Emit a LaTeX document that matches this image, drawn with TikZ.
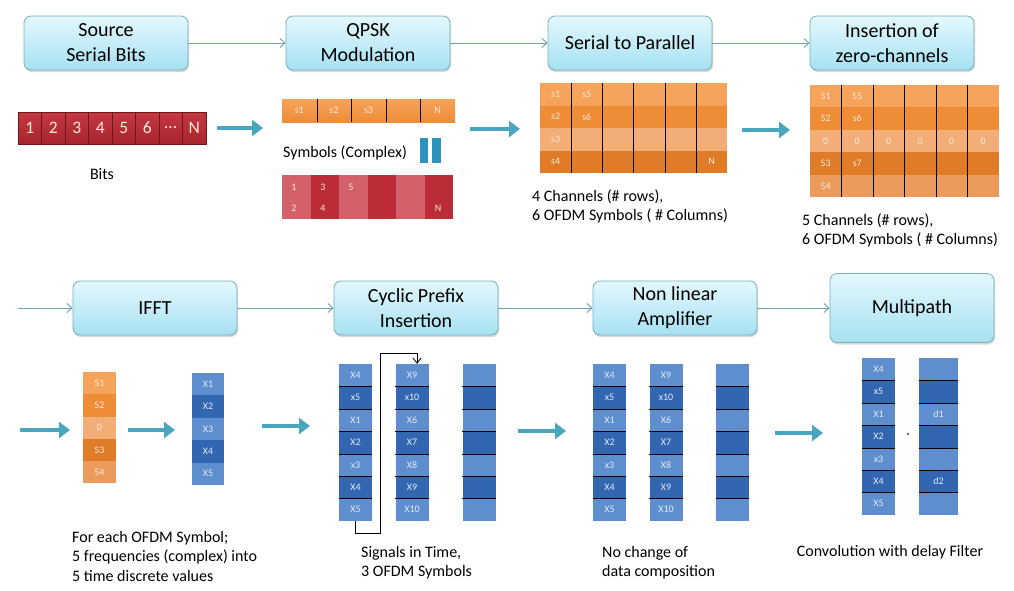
\documentclass[tikz,border=0pt]{standalone}
\usepackage{fontspec}
\setmainfont{Carlito}
\usetikzlibrary{arrows.meta,shadows}
\definecolor{boxtop}{HTML}{E4F8FD}
\definecolor{boxbot}{HTML}{A6E1F2}
\definecolor{boxline}{HTML}{78AEBD}
\definecolor{flowcol}{HTML}{6FA3B3}
\definecolor{arrowcol}{HTML}{4AA6BF}
\definecolor{barcol}{HTML}{2E93BC}
\definecolor{bitred}{HTML}{C43842}
\definecolor{bitredd}{HTML}{A7252E}
\definecolor{bitline}{HTML}{6E161C}
\definecolor{rcol1}{HTML}{D3606A}
\definecolor{rcol0}{HTML}{BB2C36}
\definecolor{org1}{HTML}{F6A35C}
\definecolor{org2}{HTML}{EF8C36}
\definecolor{org3}{HTML}{F3AE78}
\definecolor{org4}{HTML}{E07B28}
\definecolor{org5}{HTML}{EB9B5C}
\definecolor{bcol1}{HTML}{5F8ECF}
\definecolor{bcol0}{HTML}{3366B1}
\definecolor{celltxt}{HTML}{FBE9DA}
\definecolor{bluetxt}{HTML}{E2EBF7}
\begin{document}
\begin{tikzpicture}
 [x=1pt,y=-1pt,
  procbox/.style={draw=boxline,line width=0.8pt,rounded corners=7pt,top color=boxtop,bottom color=boxbot,
    minimum width=164pt,minimum height=54pt,align=center,inner sep=2pt,
    font=\fontsize{20}{25}\selectfont,
    drop shadow={shadow xshift=1pt,shadow yshift=-2pt,opacity=.3}},
  flow/.style={draw=flowcol,line width=0.9pt,-{Straight Barb[length=5pt,width=9pt]}},
  bigarrow/.style={draw=arrowcol,line width=4.5pt,-{Triangle[length=11pt,width=16pt]}},
  loopline/.style={draw=black,line width=0.8pt,-{Straight Barb[length=5pt,width=8pt]}},
  note/.style={align=left,inner sep=0pt,font=\fontsize{16}{19.5}\selectfont},
  lbl/.style={inner sep=0pt,text=celltxt,font=\fontsize{10}{11}\selectfont},
  bitcell/.style={draw=bitline,line width=0.6pt,top color=bitred,bottom color=bitredd,
    minimum width=23.5pt,minimum height=32pt,inner sep=0pt,text=celltxt,font=\fontsize{17.5}{17.5}\selectfont},
  bcell/.style={minimum width=33pt,minimum height=22.4pt,inner sep=0pt,text=bluetxt,
    font=\fontsize{10}{11}\selectfont},
  divline/.style={draw=black,line width=0.6pt}]

  \fill[white] (0,0) rectangle (1014,590);
  \useasboundingbox (0,0) rectangle (1014,590);

  \node (src)  [procbox] at (106,43)  {Source\\Serial Bits};
  \node (qpsk) [procbox] at (368,43)  {QPSK\\Modulation};
  \node (stp)  [procbox] at (630,43)  {Serial to Parallel};
  \node (ins)  [procbox] at (892,43)  {Insertion of\\zero-channels};
  \node (ifft) [procbox] at (155,308) {IFFT};
  \node (cp)   [procbox] at (416,308) {Cyclic Prefix\\Insertion};
  \node (nla)  [procbox] at (675,308) {Non linear\\Amplifier};
  \node (mp)   [procbox,minimum height=69pt] at (912,308) {Multipath};
  \coordinate (rowstart) at (18,308);

  \foreach \from/\to in {src/qpsk,qpsk/stp,stp/ins,rowstart/ifft,ifft/cp,cp/nla,nla/mp}
    \draw[flow] (\from) -- (\to);

  \foreach \n/\a/\b/\y in {1/217/263/128,2/470/520/129,3/742/790/130,4/20/70/430,
                           5/128/175/430,6/262/310/426,7/518/566/431,8/775/823/433}{
    \coordinate (ba\n s) at (\a,\y);
    \coordinate (ba\n e) at (\b,\y);
    \draw[bigarrow] (ba\n s) -- (ba\n e);}

  % source bits
  \foreach \t [count=\i] in {1,2,3,4,5,6,\ldots,N}
    \node (bit\i) [bitcell] at (6.25+23.5*\i,128) {\t};
  \node (bitsnote) [note] at (102,174) {Bits};

  % qpsk symbols
  \foreach \t [count=\i] in {s1,s2,s3,{},N}
    \node (qs\i) [lbl,minimum width=34.6pt,minimum height=23pt,top color=org1,bottom color=org2]
      at (264.7+34.6*\i,110.5) {\t};
  \foreach \i in {1,...,4}
    \draw[divline] (qs\i.north east) -- (qs\i.south east);
  \node (symnote) [note,anchor=west] at (283,153) {Symbols (Complex)};
  \fill[barcol] (420,138) rectangle (428,163);
  \fill[barcol] (432,138) rectangle (441,163);

  \foreach \i in {1,...,6}{
    \pgfmathtruncatemacro\k{mod(\i,2)}
    \node (rc\i) [minimum width=28.5pt,minimum height=44pt,inner sep=0pt,fill=rcol\k]
      at (267.75+28.5*\i,197) {};}
  \foreach \t/\x/\y in {1/294/187,2/294/208,3/323/187,4/323/208,5/351/187,N/438/208}
    \node (rl\t) [lbl] at (\x,\y) {\t};

  % serial to parallel
  \foreach \r/\c in {1/org1,2/org2,3/org3,4/org4}
    \fill[\c] (540,60.5+22.5*\r) rectangle (727,83+22.5*\r);
  \foreach \k in {1,...,5}
    \draw[divline] (540+31.2*\k,83) -- (540+31.2*\k,173);
  \foreach \t/\c/\r in {s1/1/1,s5/2/1,s2/1/2,s6/2/2,s3/1/3,s4/1/4,N/6/4}
    \node (sp\t) [lbl] at (524.4+31.2*\c,71.75+22.5*\r) {\t};
  \node (spnote) [note,anchor=west] at (532,206.5) {4 Channels (\# rows),\\6 OFDM Symbols ( \# Columns)};

  % zero channels
  \foreach \r/\c in {1/org1,2/org2,3/org3,4/org4,5/org5}
    \fill[\c] (810,62.6+22.4*\r) rectangle (999,85+22.4*\r);
  \foreach \k in {1,...,5}
    \draw[divline] (810+31.5*\k,85) -- (810+31.5*\k,197);
  \foreach \t/\c/\r in {S1/1/1,S5/2/1,S2/1/2,s6/2/2,0/1/3,0/2/3,0/3/3,0/4/3,0/5/3,0/6/3,S3/1/4,s7/2/4,S4/1/5}
    \node (zc\c-\r) [lbl] at (794.25+31.5*\c,73.8+22.4*\r) {\t};
  \node (zcnote) [note,anchor=west] at (802,230.5) {5 Channels (\# rows),\\6 OFDM Symbols ( \# Columns)};

  % ifft
  \foreach \t/\c [count=\i] in {S1/org1,S2/org2,0/org3,S3/org4,S4/org5}
    \node (fs\i) [bcell,text=celltxt,minimum height=22.2pt,fill=\c] at (99.5,361+22.2*\i) {\t};
  \foreach \t [count=\i] in {X1,X2,X3,X4,X5}{
    \pgfmathtruncatemacro\k{mod(\i,2)}
    \node (tx\i) [bcell,minimum width=32pt,minimum height=22.4pt,fill=bcol\k] at (208,361.8+22.4*\i) {\t};}
  \node (ifftnote) [note,anchor=west] at (72,556) {For each OFDM Symbol;\\5 frequencies (complex) into\\5 time discrete values};

  % time signals
  \foreach \nm/\cx/\ty in {cpa/355.5/364,nla/609.5/364,mpa/878.5/358}{
    \foreach \t [count=\i] in {X4,x5,X1,X2,x3,X4,X5}{
      \pgfmathtruncatemacro\k{mod(\i,2)}
      \node (\nm\i) [bcell,fill=bcol\k] at (\cx,\ty-11.2+22.4*\i) {\t};}
    \foreach \i in {1,...,6}
      \draw[divline] (\nm\i.south west) -- (\nm\i.south east);}
  \foreach \nm/\cx in {cpb/412,nlb/666}{
    \foreach \t [count=\i] in {X9,x10,X6,X7,X8,X9,X10}{
      \pgfmathtruncatemacro\k{mod(\i,2)}
      \node (\nm\i) [bcell,fill=bcol\k] at (\cx,352.8+22.4*\i) {\t};}
    \foreach \i in {1,...,6}
      \draw[divline] (\nm\i.south west) -- (\nm\i.south east);}
  \foreach \nm/\cx/\ty/\w in {cpc/479/364/33,nlc/732.5/364/33,mpb/938.5/358/39}{
    \foreach \i in {1,...,7}{
      \pgfmathtruncatemacro\k{mod(\i,2)}
      \node (\nm\i) [bcell,minimum width=\w pt,fill=bcol\k] at (\cx,\ty-11.2+22.4*\i) {};}
    \foreach \i in {1,...,6}
      \draw[divline] (\nm\i.south west) -- (\nm\i.south east);}
  \node (d1) [lbl,text=bluetxt] at (mpb3) {d1};
  \node (d2) [lbl,text=bluetxt] at (mpb6) {d2};
  \node (conv) [inner sep=0pt,font=\fontsize{9}{9}\selectfont] at (908,436) {*};

  \draw[loopline] (cpa7.south) -- ++(0,12) -- ++(25,0) -- ++(0,-180) -| ([xshift=5pt]cpb1.north);

  \node (cpnote) [note,anchor=west] at (361,562.5) {Signals in Time,\\3 OFDM Symbols};
  \node (nlanote) [note,anchor=west] at (602,562.5) {No change of\\data composition};
  \node (mpnote) [note] at (890,552) {Convolution with delay Filter};

\end{tikzpicture}
\end{document}
